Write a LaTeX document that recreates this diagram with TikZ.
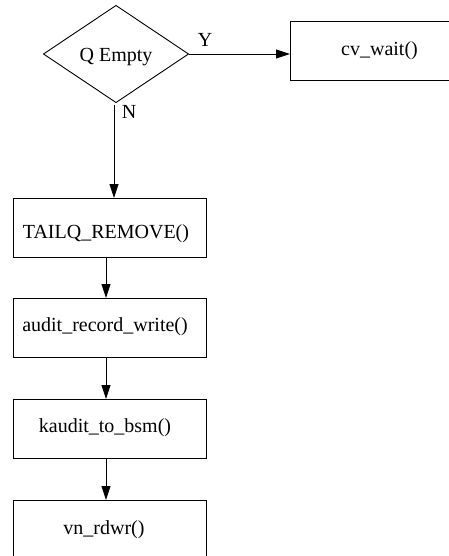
\documentclass[tikz,border=0pt]{standalone}
\usepackage{fontspec}
\setmainfont{Liberation Serif}
\usetikzlibrary{shapes.geometric,arrows.meta}
\begin{document}
\begin{tikzpicture}[x=1pt,y=-1pt,
  font=\fontsize{20}{24}\selectfont,
  every node/.style={inner sep=0pt, outer sep=0pt},
  box/.style={draw, line width=0.9pt, minimum width=193pt, minimum height=59pt},
  dec/.style={draw, diamond, line width=0.9pt, minimum width=145pt, minimum height=97pt, aspect=1.5},
  arr/.style={line width=0.9pt, -{Triangle[length=14pt,width=9pt]}},
  lbl/.style={inner sep=0pt}]
\useasboundingbox (0,0) rectangle (449,556);
\clip (0,0) rectangle (449,556);
% decision
\node[dec] (d) at (116,54) {};
\node[lbl] (dt) at (116,57) {Q Empty};
% right box (clipped on the right)
\node[box, minimum width=190pt] (cv) at (385,50.5) {};
\node[lbl] (cvt) at (379.5,51) {cv\_wait()};
% column of boxes
\node[box] (t) at (109.5,227.5) {};
\node[lbl] (tt) at (106,234) {TAILQ\_REMOVE()};
\node[box] (a) at (109.5,327.5) {};
\node[lbl] (at) at (105,327) {audit\_record\_write()};
\node[box] (k) at (109.5,428.5) {};
\node[lbl] (kt) at (105,428) {kaudit\_to\_bsm()};
\node[box] (v) at (109.5,529.5) {};
\node[lbl] (vt) at (104,530) {vn\_rdwr()};
% labels
\node[lbl] (y) at (205,40) {Y};
\node[lbl] (n) at (129,112) {N};
% connectors
\coordinate (ns) at (114,105);
\coordinate (cx) at (106,0);
\draw[arr] (d.east) -- (d.east -| cv.west);
\draw[arr] (ns) -- (t.north -| ns);
\draw[arr] (t.south -| cx) -- (a.north -| cx);
\draw[arr] (a.south -| cx) -- (k.north -| cx);
\draw[arr] (k.south -| cx) -- (v.north -| cx);
\end{tikzpicture}
\end{document}
